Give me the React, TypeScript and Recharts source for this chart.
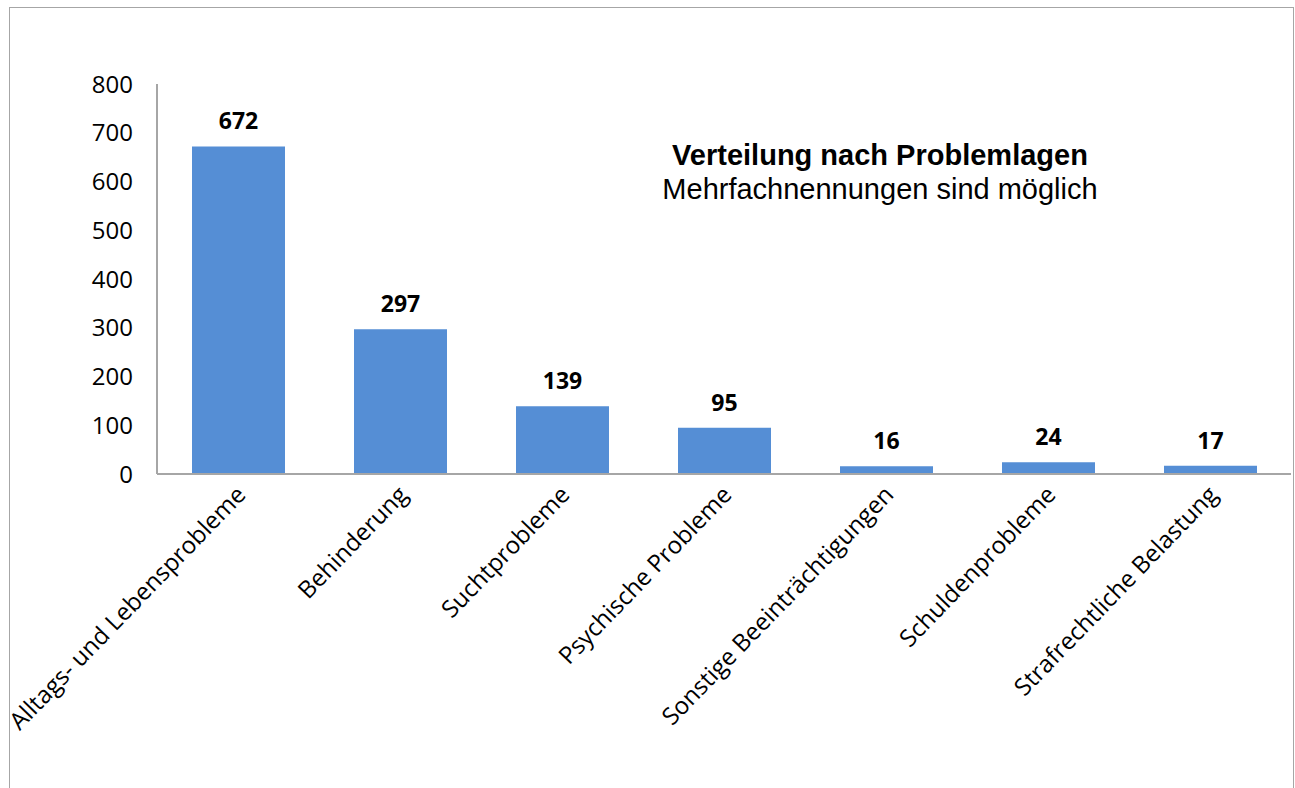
import React from 'react';
import { BarChart, Bar, XAxis, YAxis, LabelList } from 'recharts';

const categories = [
	'Alltags- und Lebensprobleme',
	'Behinderung',
	'Suchtprobleme',
	'Psychische Probleme',
	'Sonstige Beeinträchtigungen',
	'Schuldenprobleme',
	'Strafrechtliche Belastung',
];
const counts = [672, 297, 139, 95, 16, 24, 17];
const yTicks = [0, 100, 200, 300, 400, 500, 600, 700, 800];

const data = categories.map((name, i) => ({ name, value: counts[i] }));

const labelFont = "'Open Sans', sans-serif";

const CategoryTick = (props: any) => {
	const { x, y, payload } = props;
	return (
		<g transform={`translate(${x + 9},${y + 14})`}>
			<text
				textAnchor='end'
				transform='rotate(-46)'
				fontSize={24}
				fontFamily={labelFont}
				fill='#000'
			>
				{payload.value}
			</text>
		</g>
	);
};

export default function App() {
	return (
		<div style={{ position: 'absolute', left: 0, top: 0, width: 1295, height: 788 }}>
			<div
				style={{
					position: 'absolute',
					left: 9,
					top: 7,
					width: 1285,
					height: 790,
					border: '1px solid #a6a6a6',
					boxSizing: 'border-box',
				}}
			/>
			<BarChart
				width={1295}
				height={788}
				data={data}
				margin={{ top: 84, right: 4, bottom: 0, left: 97 }}
				barSize={93}
			>
				<XAxis
					dataKey='name'
					interval={0}
					height={314}
					tickLine={false}
					stroke='#a6a6a6'
					strokeWidth={2}
					tick={<CategoryTick />}
				/>
				<YAxis
					width={60}
					domain={[0, 800]}
					ticks={yTicks}
					interval={0}
					tickLine={false}
					tickSize={0}
					tickMargin={24}
					stroke='#a6a6a6'
					strokeWidth={2}
					tick={{ fontSize: 24, fontFamily: labelFont, fill: '#000' }}
				/>
				<Bar dataKey='value' fill='#558ed5' isAnimationActive={false}>
					<LabelList
						dataKey='value'
						position='top'
						offset={17}
						fontSize={23}
						fontWeight='bold'
						fontFamily={labelFont}
						fill='#000'
					/>
				</Bar>
			</BarChart>
			<div
				style={{
					position: 'absolute',
					left: 620,
					top: 138,
					width: 520,
					textAlign: 'center',
					fontFamily: "'Liberation Sans', Arial, sans-serif",
					fontSize: 29,
					lineHeight: '34px',
					color: '#000',
				}}
			>
				<div style={{ fontWeight: 'bold' }}>Verteilung nach Problemlagen</div>
				<div>Mehrfachnennungen sind möglich</div>
			</div>
		</div>
	);
}
